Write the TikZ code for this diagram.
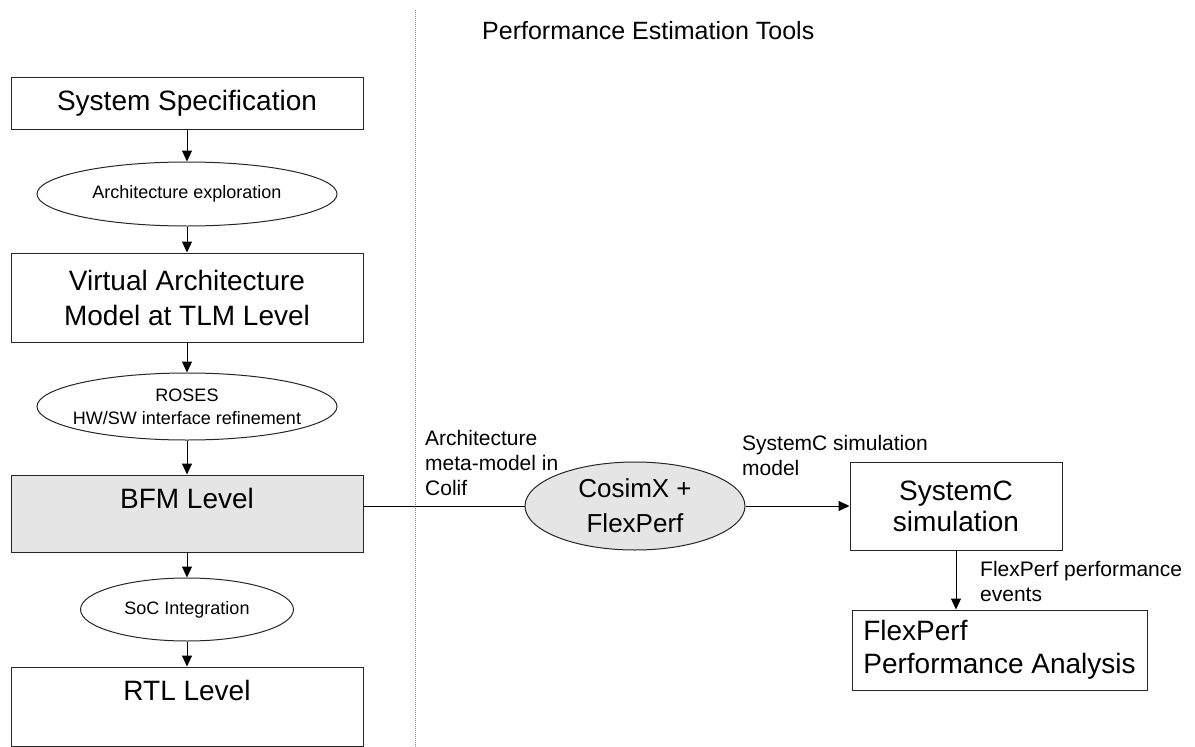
\documentclass[tikz,border=0pt]{standalone}
\usepackage{fontspec}
\setmainfont{Liberation Sans}
\usetikzlibrary{shapes.geometric,arrows.meta,positioning,calc}

\begin{document}
\begin{tikzpicture}[x=1pt, y=-1pt,
  flowbox/.style={draw=black!85, line width=1pt, rectangle, minimum width=352pt, inner sep=0pt, align=center, font=\fontsize{28}{35}\selectfont},
  stepoval/.style={draw=black!85, line width=1pt, ellipse, minimum width=300pt, inner sep=0pt, align=center, font=\fontsize{18}{23}\selectfont},
  lbl/.style={align=left, anchor=base west, inner sep=0pt, font=\fontsize{21}{25}\selectfont},
  flow/.style={-{Triangle[length=11pt,width=10pt]}, line width=1pt}]
  \useasboundingbox (0,0) rectangle (1195,747);

  % Design Flow (left column)
  \node[flowbox, minimum height=52pt] (spec) at (187,103) {System Specification};
  \node[stepoval, minimum height=64pt] (explore) at (187,194) {Architecture exploration};
  \node[flowbox, minimum height=89pt] (vam) at (187,297.5) {Virtual Architecture\\Model at TLM Level};
  \node[stepoval, minimum height=67pt] (roses) at (187,406.5) {\makebox[0pt]{ROSES}\\\makebox[0pt]{HW/SW interface refinement}};
  \node[flowbox, fill=black!10, minimum height=77pt, text height=25pt, text depth=35pt, inner ysep=8.5pt] (bfm) at (187,513.5) {BFM Level};
  \node[stepoval, minimum width=213pt, minimum height=63pt] (soc) at (187,609.5) {SoC Integration};
  \node[flowbox, minimum height=79pt, text height=24pt, text depth=37pt, inner ysep=9pt] (rtl) at (187,706.5) {RTL Level};

  % Flow Arrows
  \draw[flow] (spec) -- (explore);
  \draw[flow] (explore) -- (vam);
  \draw[flow] (vam) -- (roses);
  \draw[flow] (roses) -- (bfm);
  \draw[flow] (bfm) -- (soc);
  \draw[flow] (soc) -- (rtl);

  % Separator
  \draw[gray, line width=0.8pt, dash pattern=on 1pt off 1pt] (415,10) -- (415,747);
  \node[anchor=base west, inner sep=0pt, font=\fontsize{25}{30}\selectfont] (tools) at (482,39) {Performance Estimation Tools};

  % Performance Estimation Tools
  \node[stepoval, fill=black!10, minimum width=220pt, minimum height=88pt, font=\fontsize{26}{35}\selectfont] (cosim) at (635,506) {CosimX +\\FlexPerf};
  \node[flowbox, minimum width=212pt, minimum height=88pt, font=\fontsize{28}{31}\selectfont] (sysc) at (956,506) {SystemC\\simulation};
  \node[flowbox, minimum width=295pt, minimum height=80pt, align=left, font=\fontsize{28}{33}\selectfont] (fpa) at (999.5,650) {FlexPerf\\Performance Analysis};

  % Tool Links
  \draw[line width=1pt] (bfm.east |- cosim.west) -- (cosim.west);
  \draw[flow] (cosim.east) -- (cosim.east -| sysc.west);
  \draw[flow] (sysc.south) -- (sysc.south |- fpa.north);

  % Link Labels
  \node[lbl] (colif) at (425,495) {Architecture\\meta-model in\\Colif};
  \node[lbl] (scmodel) at (742,475) {SystemC simulation\\model};
  \node[lbl] (events) at (980,601) {FlexPerf performance\\events};
\end{tikzpicture}
\end{document}
